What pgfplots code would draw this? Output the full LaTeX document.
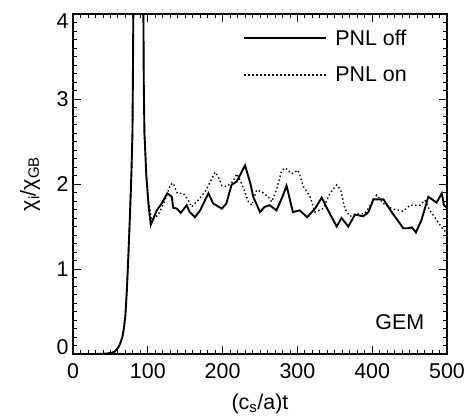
\documentclass[border=0pt]{standalone}
\usepackage{fontspec}
\setmainfont{Liberation Sans}
\usepackage{pgfplots}
\pgfplotsset{compat=1.18}
\begin{document}
\begin{tikzpicture}
\begin{axis}[
  name=ax,
  scale only axis,
  width=374bp, height=340bp,
  xmin=0, xmax=500, ymin=0, ymax=4,
  xtick={0,100,200,300,400,500},
  ytick={0,1,2,3,4},
  yticklabels={{},1,2,3,{}},
  extra y ticks={0.085,3.915},
  extra y tick labels={0,4},
  extra y tick style={major tick length=0pt},
  minor x tick num=9,
  minor y tick num=9,
  tick align=inside,
  major tick length=8bp,
  minor tick length=4bp,
  every tick/.style={black, line width=0.8bp},
  axis line style={line width=1.3bp},
  /pgf/number format/assume math mode=true,
  tick label style={font=\fontsize{21.5}{24}\selectfont},
  xticklabel style={yshift=-6bp},
  yticklabel style={xshift=-1bp},
  xlabel={(c\textsubscript{s}/a)t},
  ylabel={χ\textsubscript{i}/χ\textsubscript{GB}},
  label style={font=\fontsize{21.5}{24}\selectfont},
  xlabel style={at={(axis description cs:0.5,-0.147)}, anchor=center},
  ylabel style={at={(axis description cs:-0.115,0.5)}, anchor=center},
  legend image code/.code={\draw[#1] (0bp,0bp) -- (82bp,0bp);},
  legend cell align=left,
  legend style={at={(rel axis cs:0.455,0.96)}, anchor=north west, draw=none, fill=none,
    inner sep=0pt, row sep=16bp, font=\fontsize{21.5}{24}\selectfont,
    nodes={inner sep=2bp},
    /tikz/every odd column/.append style={column sep=6bp}},
]
\addplot[black, line width=1.9bp] coordinates {
(0,0) (30,0) (45,0.005) (52,0.015) (56,0.03) (60,0.07) (63,0.12) (66,0.2) (68,0.3)
(70,0.45) (72,0.75) (74,1.15) (76,1.6) (78,2.1) (79.5,2.6) (80.2,3.4) (80.8,4.2)
(83,6) (88,7) (92,6) (94,4.2) (94.6,3.2) (95.5,2.6) (98,2.1) (101,1.75) (104,1.52)
(112,1.69) (118.5,1.77) (126,1.89) (132,1.85) (134,1.72) (139,1.71) (144,1.66)
(152,1.75) (156,1.67) (163,1.61) (170,1.69) (181,1.89) (187.5,1.77) (199,1.71)
(205,1.77) (212,1.99) (219,2.03) (230,2.22) (237,2.01) (241,1.85) (250,1.67)
(256,1.73) (263,1.75) (272,1.69) (280,1.85) (285.5,1.98) (294,1.67) (303,1.69)
(313,1.61) (323.5,1.71) (332.5,1.84) (341,1.69) (352.5,1.50) (359,1.60) (368,1.50)
(377,1.64) (388,1.62) (395,1.67) (401.5,1.82) (415,1.82) (426,1.67) (435,1.56)
(441.5,1.48) (448,1.48) (453,1.49) (458.5,1.43) (466,1.58) (475,1.85) (481.5,1.81)
(486,1.78) (493,1.89) (496,1.75) (500,1.72)
};
\addlegendentry{PNL off}
\addplot[black, line width=1.4bp, dash pattern=on 1.4bp off 2.6bp] coordinates {
(0,0) (30,0) (45,0.005) (52,0.015) (56,0.03) (60,0.07) (63,0.12) (66,0.2) (68,0.3)
(70,0.45) (72,0.75) (74,1.15) (76,1.6) (78,2.1) (79.5,2.6) (80.2,3.4) (80.8,4.2)
(83,6) (88,7) (92,6) (94,4.2) (94.6,3.2) (95.5,2.6) (98,2.1) (101,1.8) (105,1.58)
(110,1.6) (116,1.67) (123,1.81) (130,1.99) (134,2.01) (139.5,1.89) (147.5,1.89)
(154,1.81) (158.5,1.73) (167.5,1.81) (176.5,1.91) (185,2.05) (190,2.14) (194,2.09)
(199,1.98) (205.5,1.97) (214,2.03) (219,2.12) (223,2.05) (228,1.95) (234.5,1.79)
(239,1.75) (245.5,1.93) (252,1.91) (261,1.85) (265.5,1.79) (272,1.93) (279,2.16)
(284,2.19) (292,2.12) (301,2.16) (308,1.97) (317,1.85) (323.5,1.67) (334.5,1.71)
(343.5,1.89) (352.5,1.99) (358,1.93) (363.5,1.71) (370,1.62) (379,1.65) (390,1.65)
(399,1.77) (406,1.87) (415,1.77) (426,1.71) (441.5,1.68) (450.5,1.75) (464,1.75)
(470.5,1.81) (477,1.69) (486,1.58) (495,1.46) (500,1.43)
};
\addlegendentry{PNL on}
\node[anchor=center, font=\fontsize{21.5}{24}\selectfont] at (rel axis cs:0.874,0.094) {GEM};
\end{axis}
\pgfresetboundingbox
\path ([xshift=-73bp,yshift=-62bp]ax.south west) rectangle ([xshift=26bp,yshift=14bp]ax.north east);
\end{tikzpicture}
\end{document}
